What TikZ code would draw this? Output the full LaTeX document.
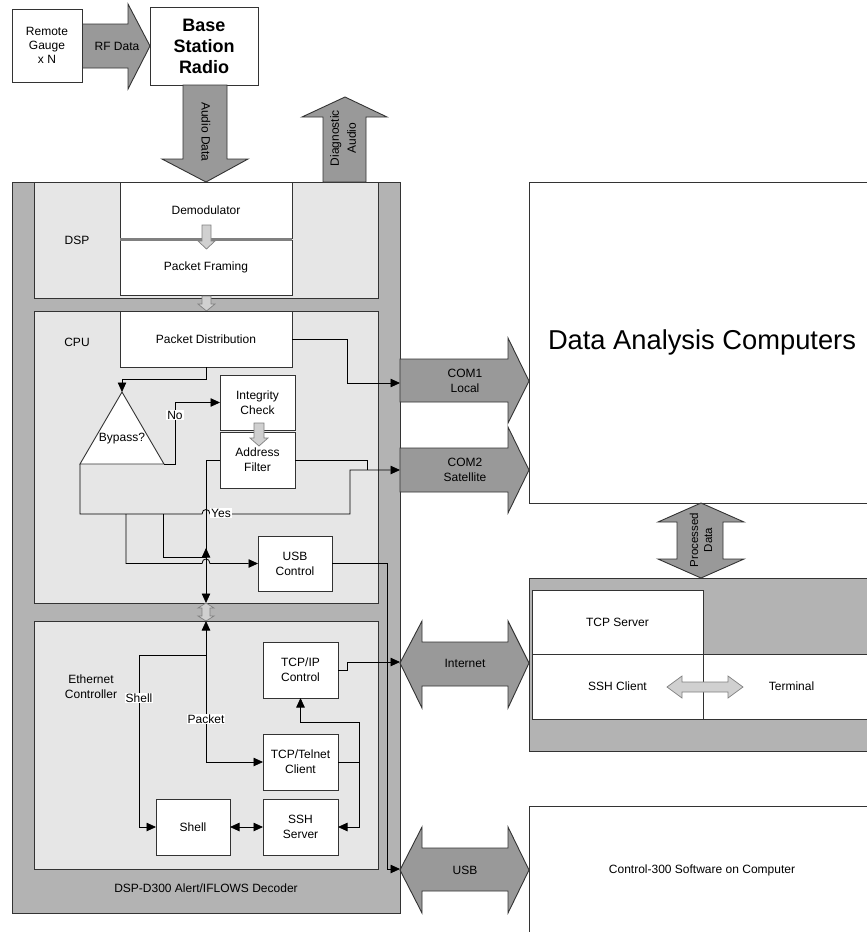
\documentclass[tikz,border=0pt]{standalone}
\usepackage{fontspec}
\setmainfont{Liberation Sans}
\usetikzlibrary{arrows.meta}
\definecolor{outergray}{HTML}{B3B3B3}
\definecolor{panel}{HTML}{E6E6E6}
\definecolor{blockfill}{HTML}{999999}
\definecolor{lightfill}{HTML}{D0D0D0}
\definecolor{edge}{HTML}{333333}
\definecolor{sepgray}{HTML}{808080}
\begin{document}
\begin{tikzpicture}[x=1pt,y=-1pt,
  >={Triangle[length=9.5pt,width=8.5pt]},
  txt/.style={font=\fontsize{12}{14.5}\selectfont, align=center, inner sep=0pt},
  box/.style={draw=edge, fill=white, line width=0.9pt, inner sep=0pt, outer sep=0pt, align=center, font=\fontsize{12}{15}\selectfont},
  panelbox/.style={draw=edge, fill=panel, line width=0.9pt, inner sep=0pt, outer sep=0pt},
  wire/.style={draw=black, line width=0.8pt},
  bigarr/.style={draw=edge, fill=blockfill, line width=0.9pt},
  lightarr/.style={draw=sepgray, fill=lightfill, line width=0.7pt},
  lbl/.style={fill=white, inner sep=1pt, font=\fontsize{12}{14}\selectfont},
]
\path[use as bounding box] (0,0) rectangle (867,932);
\clip (0,0) rectangle (867,932);

% ---------- top ----------
\path[bigarr] (82,24) -- (128,24) -- (128,4) -- (150,46) -- (128,89) -- (128,68) -- (82,68) -- cycle;
\node[box, minimum width=70, minimum height=73, font=\fontsize{12}{14}\selectfont] (gauge) at (47,45.5) {Remote\\Gauge\\x N};
\node[box, minimum width=108, minimum height=78, font=\bfseries\fontsize{18}{21}\selectfont] (radio) at (204,46) {Base\\Station\\Radio};
\node[txt] (rflbl) at (117,46) {RF Data};

% ---------- decoder ----------
\node[panelbox, fill=outergray, minimum width=388, minimum height=731] (decoder) at (206,547.5) {};
\node[panelbox, minimum width=344, minimum height=116] (dsp) at (206,240) {};
\node[panelbox, minimum width=344, minimum height=292] (cpu) at (206,457) {};
\node[panelbox, minimum width=344, minimum height=248] (eth) at (206,745) {};

\path[bigarr] (183,85) -- (227,85) -- (227,159) -- (248,159) -- (206,182) -- (162,159) -- (183,159) -- cycle;
\node[txt, rotate=-90] (audiolbl) at (206,132) {Audio Data};
\path[bigarr] (323,182) -- (323,117) -- (302,117) -- (345,97) -- (387,117) -- (366,117) -- (366,182) -- cycle;
\node[txt, rotate=90, font=\fontsize{12}{17}\selectfont] (diaglbl) at (343,138) {Diagnostic\\Audio};

% DSP
\node[txt] (dsplbl) at (77,240) {DSP};
\node[box, minimum width=172, minimum height=56] (demod) at (206,210) {Demodulator};
\node[box, minimum width=172, minimum height=55] (pframe) at (206,267.5) {Packet Framing};
\fill[sepgray] (120,237.5) rectangle (292,240.5);
\path[lightarr] (202,225) -- (211,225) -- (211,241) -- (215,241) -- (206.5,249) -- (198,241) -- (202,241) -- cycle;
\path[lightarr] (202,296) -- (211,296) -- (211,304) -- (215,304) -- (206.5,311) -- (198,304) -- (202,304) -- cycle;

% CPU
\node[txt] (cpulbl) at (77,342) {CPU};
\node[box, minimum width=172, minimum height=56] (pdist) at (206,339) {Packet Distribution};
\node[box, minimum width=75, minimum height=55] (integ) at (257.5,402.5) {Integrity\\Check};
\node[box, minimum width=75, minimum height=56] (addr) at (257.5,460) {Address\\Filter};
\path[lightarr] (254,423) -- (264,423) -- (264,438) -- (268,438) -- (259,446) -- (250,438) -- (254,438) -- cycle;
\node[box, minimum width=74, minimum height=55] (usb) at (295,563.5) {USB\\Control};
\coordinate (triA) at (122,392);
\coordinate (triR) at (164,464);
\coordinate (triL) at (80,464);
\path[draw=edge, fill=white, line width=0.9pt] (triA) -- (triR) -- (triL) -- cycle;
\node[txt] (bypass) at (122,439) {Bypass?};

\coordinate (com1in) at (400,383);
\coordinate (com2in) at (400,470);
\coordinate (usbin) at (400,869);
\coordinate (inetin) at (400,662);
\coordinate (jYesA) at (126,514);
\coordinate (jYesB) at (163,514);

\draw[wire,->] (pdist.east) -| (347,383) -- (com1in);
\draw[wire,->] (pdist.south) |- (122,379) -- (triA);
\draw[wire,->] (triR) -| (175,402.5) -- (integ.west);
\draw[wire,->] (triL) -- (80,514) -- (202,514) .. controls (202,508) and (210,508) .. (210,514) -- (350,514) -- (350,470) -- (com2in);
\draw[wire] (addr.east) -| (367,470);
\draw[wire,->] (addr.west) -| (cpu.south);
\draw[wire,->] (jYesA) -- (126,563.5) -- (202,563.5) .. controls (202,557.5) and (210,557.5) .. (210,563.5) -- (usb.west);
\draw[wire,->] (jYesB) |- (206,557) -- (206,548);
\draw[wire,->] (usb.east) -- (387,563.5) -- (387,869) -- (usbin);

\path[lightarr] (206,603) -- (214,608) -- (210,608) -- (210,616) -- (214,616) -- (206,621) -- (198,616) -- (202,616) -- (202,608) -- (198,608) -- cycle;

% Ethernet
\node[txt] (ethlbl) at (91,686.5) {Ethernet\\Controller};
\node[box, minimum width=75, minimum height=56] (tcpip) at (300.5,670) {TCP/IP\\Control};
\node[box, minimum width=75, minimum height=56] (telnet) at (300.5,762) {TCP/Telnet\\Client};
\node[box, minimum width=74, minimum height=56] (shell) at (193,827) {Shell};
\node[box, minimum width=75, minimum height=56] (ssh) at (300.5,827) {SSH\\Server};
\coordinate (jShell) at (206,655);
\coordinate (jTel) at (359,762);
\draw[wire,<->] (eth.north) |- (telnet.west);
\draw[wire,->] (jShell) -| (139,827) -- (shell.west);
\draw[wire,<->] (shell.east) -- (ssh.west);
\draw[wire] (telnet.east) -- (jTel);
\draw[wire,->] (jTel) -- (359,722) -| (tcpip.south);
\draw[wire,->] (jTel) |- (ssh.east);
\draw[wire,->] (tcpip.east) -- (347,670) -- (347,662) -- (inetin);
\node[txt] (declbl) at (206,888) {DSP-D300 Alert/IFLOWS Decoder};

% line labels
\node[lbl] (nolbl) at (175,415) {No};
\node[lbl] (yeslbl) at (221,513) {Yes};
\node[lbl] (shelllbl) at (139,698) {Shell};
\node[lbl] (pktlbl) at (206,719) {Packet};

% ---------- right side ----------
\node[box, minimum width=351, minimum height=321, anchor=north west] (dac) at (529,182) {};
\node[txt, font=\fontsize{27.3}{32}\selectfont] (daclbl) at (702,342) {Data Analysis Computers};
\node[panelbox, fill=outergray, minimum width=351, minimum height=173, anchor=north west] (server) at (529,578) {};
\node[box, minimum width=171, minimum height=64, anchor=north west] (tcpsrv) at (532,590) {TCP Server};
\node[box, minimum width=171, minimum height=65, anchor=north west] (sshcl) at (532,654) {SSH Client};
\node[box, minimum width=177, minimum height=65, anchor=north west] (term) at (703,654) {Terminal};
\node[box, minimum width=351, minimum height=140, anchor=north west] (ctrl) at (529,806) {};
\node[txt] (ctrllbl) at (702,870) {Control-300 Software on Computer};

\path[lightarr] (667,687) -- (682,676) -- (682,682) -- (728,682) -- (728,676) -- (743,687) -- (728,698) -- (728,692) -- (682,692) -- (682,698) -- cycle;

\path[bigarr] (400,359) -- (508,359) -- (508,338) -- (529,381) -- (508,423) -- (508,402) -- (400,402) -- cycle;
\node[txt] (com1lbl) at (465,381) {COM1\\Local};
\path[bigarr] (400,448) -- (508,448) -- (508,427) -- (529,470) -- (508,513) -- (508,492) -- (400,492) -- cycle;
\node[txt] (com2lbl) at (465,470) {COM2\\Satellite};
\path[bigarr] (400,663) -- (422,621) -- (422,642) -- (508,642) -- (508,621) -- (529,663) -- (508,708) -- (508,686) -- (422,686) -- (422,708) -- cycle;
\node[txt] (inetlbl) at (465,663) {Internet};
\path[bigarr] (400,870) -- (422,827) -- (422,848) -- (508,848) -- (508,827) -- (529,870) -- (508,913) -- (508,891) -- (422,891) -- (422,913) -- cycle;
\node[txt] (usblbl) at (465,870) {USB};

\path[bigarr] (677,522) -- (658,522) -- (701,503) -- (744,522) -- (723,522) -- (723,559) -- (744,559) -- (701,578) -- (658,559) -- (677,559) -- cycle;
\node[txt, rotate=90, font=\fontsize{11.5}{14}\selectfont] (proclbl) at (701,540) {Processed\\Data};
\end{tikzpicture}
\end{document}
